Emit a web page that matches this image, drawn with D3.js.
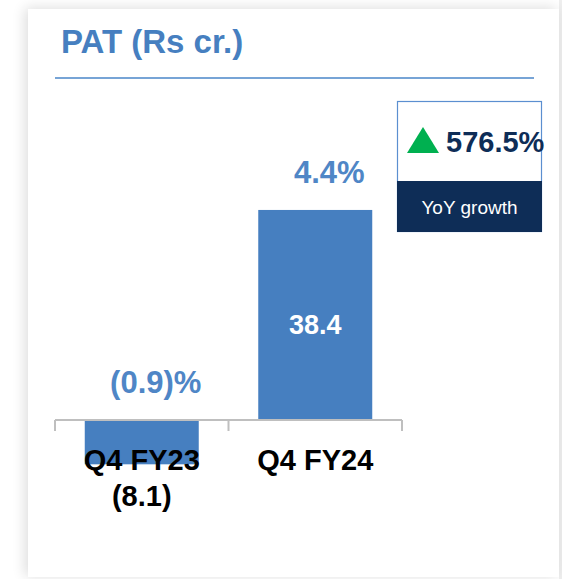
<!DOCTYPE html>
<html><head><meta charset="utf-8">
<script src="https://cdn.jsdelivr.net/npm/d3@7"></script>
<style>html,body{margin:0;padding:0;background:#fff;overflow:hidden}</style>
</head><body><div id="chart"></div>
<script>
const categories = ["Q4 FY23", "Q4 FY24"];
const patValues = [-8.1, 38.4];
const valueLabels = ["(8.1)", "38.4"];
const marginLabels = ["(0.9)%", "4.4%"];
const titleText = "PAT (Rs cr.)";
const yoyValue = "576.5%";
const yoyLabel = "YoY growth";

const W = 562, H = 579;
const FONT = "'Liberation Sans', Arial, sans-serif";
const BLUE = "#467fc0";
const NAVY = "#0e2d57";

const svg = d3.select("#chart").append("svg").attr("width", W).attr("height", H);
const defs = svg.append("defs");
const f = defs.append("filter").attr("id","sh").attr("x","-10%").attr("y","-10%").attr("width","120%").attr("height","120%");
f.append("feGaussianBlur").attr("in","SourceAlpha").attr("stdDeviation",7);
f.append("feOffset").attr("dx",-3).attr("dy",-1).attr("result","b");
f.append("feComponentTransfer").append("feFuncA").attr("type","linear").attr("slope",0.14);
const m = f.append("feMerge"); m.append("feMergeNode"); m.append("feMergeNode").attr("in","SourceGraphic");

svg.append("rect").attr("x",0).attr("y",0).attr("width",W).attr("height",H).attr("fill","#fff");
svg.append("rect").attr("x",559).attr("y",0).attr("width",3).attr("height",H).attr("fill","#efefef");
svg.append("rect").attr("x",28).attr("y",9).attr("width",531).attr("height",568).attr("fill","#fff").attr("filter","url(#sh)");

// title
svg.append("text").attr("x",61).attr("y",53).attr("font-family",FONT).attr("font-weight","bold")
  .attr("font-size",33).attr("fill",BLUE).text(titleText);
svg.append("line").attr("x1",55).attr("x2",534).attr("y1",78).attr("y2",78).attr("stroke","#4a86c8").attr("stroke-width",1.5);

// scales
const x = d3.scaleBand().domain(categories).range([55, 402]).paddingInner(0.343).paddingOuter(0.1715);
const y = d3.scaleLinear().domain([-10, 40]).range([420 + 10*5.47, 420 - 40*5.47]);

// bars
svg.selectAll("rect.bar").data(patValues).enter().append("rect").attr("class","bar")
  .attr("x",(d,i)=>x(categories[i])).attr("width",x.bandwidth())
  .attr("y",d=>y(Math.max(0,d))).attr("height",d=>Math.abs(y(d)-y(0)))
  .attr("fill",BLUE);

// axis
const ax = svg.append("g").attr("stroke","#bfbfbf").attr("stroke-width",2);
ax.append("line").attr("x1",55).attr("x2",402).attr("y1",y(0)).attr("y2",y(0));
const bounds = [55].concat(categories.map(c=>x(c)+x.bandwidth()+x.step()*x.paddingInner()/2));
bounds[bounds.length-1] = 402;
bounds.forEach(b=>ax.append("line").attr("x1",b).attr("x2",b).attr("y1",y(0)).attr("y2",y(0)+11));

// category labels
svg.selectAll("text.cat").data(categories).enter().append("text").attr("class","cat")
  .attr("x",d=>x(d)+x.bandwidth()/2).attr("y",470).attr("text-anchor","middle")
  .attr("font-family",FONT).attr("font-weight","bold").attr("font-size",29).attr("fill","#000").text(d=>d);

// value labels
svg.selectAll("text.val").data(patValues).enter().append("text").attr("class","val")
  .attr("x",(d,i)=>x(categories[i])+x.bandwidth()/2)
  .attr("y",d=> d<0 ? 506 : (y(d)+y(0))/2 + 19)
  .attr("text-anchor","middle").attr("font-family",FONT).attr("font-weight","bold").attr("font-size",d=>d<0?29:27)
  .attr("fill",d=>d<0?"#000":"#fff").text((d,i)=>valueLabels[i]);

// margin labels
svg.selectAll("text.mg").data(patValues).enter().append("text").attr("class","mg")
  .attr("x",(d,i)=>x(categories[i])+x.bandwidth()/2+14)
  .attr("y",d=>y(Math.max(0,d))-27)
  .attr("text-anchor","middle").attr("font-family",FONT).attr("font-weight","bold").attr("font-size",31)
  .attr("fill","#4f86c6").text((d,i)=>marginLabels[i]);

// YoY box
svg.append("rect").attr("x",397.5).attr("y",101.5).attr("width",144).attr("height",130).attr("fill","#fff").attr("stroke","#5b8fd0").attr("stroke-width",1.2);
svg.append("rect").attr("x",397).attr("y",181).attr("width",145).attr("height",51).attr("fill",NAVY);
svg.append("path").attr("d","M407,153 L423,127 L439,153 Z").attr("fill","#00b050");
svg.append("text").attr("x",446).attr("y",152).attr("font-family",FONT).attr("font-weight","bold").attr("font-size",29).attr("fill",NAVY).text(yoyValue);
svg.append("text").attr("x",469.5).attr("y",214).attr("text-anchor","middle").attr("font-family",FONT).attr("font-size",19).attr("fill","#fff").text(yoyLabel);
</script></body></html>
